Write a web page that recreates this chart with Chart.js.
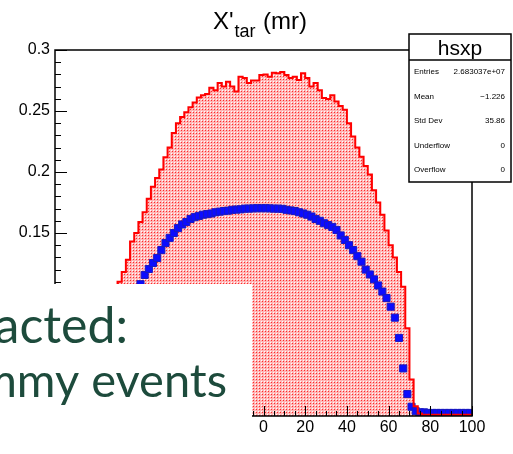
<!DOCTYPE html>
<html>
<head>
<meta charset="utf-8">
<script src="https://cdn.jsdelivr.net/npm/chart.js@4.4.0/dist/chart.umd.min.js"></script>
<style>
  html, body { margin: 0; padding: 0; background: #fff; }
  canvas { display: block; }
</style>
</head>
<body>
<canvas id="hist" width="513" height="454"></canvas>
<script>
// histogram binning (100 bins from -100 to 100)
var xMin = -100;
var xMax = 100;
var binWidth = 2;

// red filled histogram, one value per bin
var redValues = [
    0.001, 0.001, 0.001, 0.001, 0.001, 0.001, 0.001, 0.001, 0.001, 0.001,
    0.001, 0.001, 0.002, 0.012, 0.055, 0.110, 0.118, 0.128, 0.143, 0.150,
    0.159, 0.167, 0.178, 0.188, 0.195, 0.202, 0.212, 0.220, 0.232, 0.240,
    0.245, 0.249, 0.253, 0.257, 0.261, 0.263, 0.264, 0.269, 0.267, 0.273,
    0.270, 0.274, 0.270, 0.266, 0.278, 0.277, 0.273, 0.275, 0.275, 0.2795,
    0.280, 0.278, 0.2814, 0.281, 0.282, 0.2795, 0.277, 0.278, 0.2754, 0.281,
    0.277, 0.270, 0.273, 0.267, 0.2606, 0.2598, 0.263, 0.2577, 0.254, 0.251,
    0.240, 0.229, 0.220, 0.2125, 0.205, 0.198, 0.185, 0.175, 0.165, 0.152,
    0.140, 0.130, 0.118, 0.106, 0.072, 0.030, 0.008, 0.002, 0.001, 0.001,
    0.001, 0.001, 0.001, 0.001, 0.001, 0.001, 0.001, 0.001, 0.001, 0.001
];

// blue markers, one value per bin centre
var blueValues = [
    0.0025, 0.0025, 0.0025, 0.0025, 0.0025, 0.0025, 0.0025, 0.0025, 0.0025, 0.0025,
    0.0025, 0.003, 0.003, 0.004, 0.008, 0.018, 0.039, 0.064, 0.081, 0.090,
    0.108, 0.1156, 0.1205, 0.1254, 0.1295, 0.136, 0.1418, 0.146, 0.150, 0.154,
    0.157, 0.159, 0.1615, 0.163, 0.164, 0.165, 0.1655, 0.166, 0.167, 0.1675,
    0.168, 0.1683, 0.169, 0.1692, 0.1694, 0.170, 0.170, 0.1702, 0.1703, 0.1703,
    0.1703, 0.1702, 0.170, 0.170, 0.1698, 0.169, 0.1685, 0.168, 0.167, 0.166,
    0.165, 0.1635, 0.1615, 0.160, 0.158, 0.1565, 0.155, 0.1525, 0.148, 0.1443,
    0.140, 0.136, 0.131, 0.1265, 0.120, 0.116, 0.112, 0.107, 0.102, 0.0967,
    0.0896, 0.0806, 0.064, 0.039, 0.018, 0.0076, 0.004, 0.003, 0.003, 0.0025,
    0.0025, 0.0025, 0.0025, 0.0025, 0.0025, 0.0025, 0.0025, 0.0025, 0.0025, 0.0025
];

var xTickValues = [-100, -80, -60, -40, -20, 0, 20, 40, 60, 80, 100];
var yTickValues = [0, 0.05, 0.1, 0.15, 0.2, 0.25, 0.3];

var statsNames = ['Entries', 'Mean', 'Std Dev', 'Underflow', 'Overflow'];
var statsValues = ['2.683037e+07', '\u22121.226', '35.86', '0', '0'];

// step points: left edge of every bin + closing right edge
var redSteps = [];
for (var i = 0; i < redValues.length; i++) {
    redSteps.push({x: xMin + i * binWidth, y: redValues[i]});
}
redSteps.push({x: xMax, y: redValues[redValues.length - 1]});

var bluePoints = [];
for (var i = 0; i < blueValues.length; i++) {
    bluePoints.push({x: xMin + (i + 0.5) * binWidth, y: blueValues[i]});
}

function makeDotPattern() {
    var c = document.createElement('canvas');
    c.width = 3;
    c.height = 3;
    var g = c.getContext('2d');
    g.fillStyle = '#ffb6b6';
    g.fillRect(0, 0, 3, 3);
    g.fillStyle = '#ffffff';
    g.fillRect(0, 0, 1, 1);
    g.fillStyle = '#ff2a2a';
    g.fillRect(1, 1, 1, 1);
    return document.getElementById('hist').getContext('2d').createPattern(c, 'repeat');
}

var font = '"Liberation Sans", Arial, Helvetica, sans-serif';

var rootDecor = {
    id: 'rootDecor',
    afterDraw: function (chart) {
        var ctx = chart.ctx;
        var a = chart.chartArea;
        var xs = chart.scales.x;
        var ys = chart.scales.y;
        ctx.save();

        // frame
        ctx.strokeStyle = '#000';
        ctx.lineWidth = 1.5;
        ctx.strokeRect(a.left, a.top, a.right - a.left, a.bottom - a.top);

        // ticks pointing inward
        ctx.lineWidth = 1;
        ctx.beginPath();
        for (var v = 0; v <= 30; v++) {
            var py = Math.round(ys.getPixelForValue(v / 100)) + 0.5;
            var len = (v % 5 === 0) ? 12 : 6;
            ctx.moveTo(a.left, py);
            ctx.lineTo(a.left + len, py);
        }
        for (var v = -100; v <= 100; v += 5) {
            var px = Math.round(xs.getPixelForValue(v)) + 0.5;
            var len = (v % 20 === 0) ? 10 : 5;
            ctx.moveTo(px, a.bottom);
            ctx.lineTo(px, a.bottom - len);
        }
        ctx.stroke();

        // stats box
        var bx = 409, by = 34, bw = 102, bh = 148;
        ctx.fillStyle = '#fff';
        ctx.fillRect(bx, by, bw, bh);
        ctx.lineWidth = 1.5;
        ctx.strokeRect(bx, by, bw, bh);
        ctx.beginPath();
        ctx.moveTo(bx, 60);
        ctx.lineTo(bx + bw, 60);
        ctx.stroke();
        ctx.fillStyle = '#000';
        ctx.textAlign = 'center';
        ctx.textBaseline = 'alphabetic';
        ctx.font = '21px ' + font;
        ctx.fillText('hsxp', bx + bw / 2, 55);
        ctx.font = '8px ' + font;
        for (var k = 0; k < statsNames.length; k++) {
            var ry = 74 + k * 24.5;
            ctx.textAlign = 'left';
            ctx.fillText(statsNames[k], 414, ry);
            ctx.textAlign = 'right';
            ctx.fillText(statsValues[k], 505, ry);
        }

        // title X'_tar (mr)
        ctx.textAlign = 'left';
        ctx.font = '24px ' + font;
        ctx.fillText("X'", 213, 29);
        var w1 = ctx.measureText("X'").width;
        ctx.font = '18px ' + font;
        ctx.fillText('tar', 213 + w1 + 1, 37);
        ctx.font = '24px ' + font;
        ctx.fillText('(mr)', 263, 29);

        // white slide overlay with text
        ctx.fillStyle = '#fff';
        ctx.fillRect(0, 284, 252, 170);
        ctx.fillStyle = '#1d4b3c';
        ctx.textAlign = 'right';
        ctx.font = '50px Lato, "Open Sans", sans-serif';
        ctx.fillText('Extracted:', 128, 343);
        ctx.font = '47px Lato, "Open Sans", sans-serif';
        ctx.fillText('dummy events', 227, 397);

        ctx.restore();
    }
};

var fillPattern = makeDotPattern();

new Chart(document.getElementById('hist'), {
    type: 'line',
    data: {
        datasets: [
            {
                label: 'fill',
                data: redSteps,
                stepped: true,
                fill: 'origin',
                backgroundColor: fillPattern,
                borderWidth: 0,
                pointRadius: 0,
                order: 2
            },
            {
                label: 'blue',
                data: bluePoints,
                showLine: false,
                pointStyle: 'rect',
                pointRadius: 5,
                pointBackgroundColor: '#0c0cff',
                pointBorderColor: '#1a1ac0',
                pointBorderWidth: 1,
                order: 1
            },
            {
                label: 'line',
                data: redSteps,
                stepped: true,
                fill: false,
                borderColor: '#ff0000',
                borderWidth: 2,
                pointRadius: 0,
                order: 0
            }
        ]
    },
    options: {
        responsive: false,
        animation: false,
        devicePixelRatio: 1,
        layout: {padding: {left: 0, right: 41, top: 50, bottom: 0}},
        plugins: {
            legend: {display: false},
            tooltip: {enabled: false}
        },
        scales: {
            x: {
                type: 'linear',
                min: xMin,
                max: xMax,
                grid: {display: false, drawTicks: false},
                border: {display: false},
                afterBuildTicks: function (scale) {
                    scale.ticks = xTickValues.map(function (v) { return {value: v}; });
                },
                afterFit: function (scale) { scale.height = 38; },
                ticks: {
                    color: '#000',
                    padding: 2,
                    maxRotation: 0,
                    font: {family: font, size: 16},
                    callback: function (v) { return String(v); }
                }
            },
            y: {
                type: 'linear',
                min: 0,
                max: 0.3,
                grid: {display: false, drawTicks: false},
                border: {display: false},
                afterBuildTicks: function (scale) {
                    scale.ticks = yTickValues.map(function (v) { return {value: v}; });
                },
                afterFit: function (scale) { scale.width = 55; },
                ticks: {
                    color: '#000',
                    padding: 5,
                    font: {family: font, size: 16},
                    callback: function (v) { return String(+v.toFixed(3)); }
                }
            }
        }
    },
    plugins: [rootDecor]
});
</script>
</body>
</html>
